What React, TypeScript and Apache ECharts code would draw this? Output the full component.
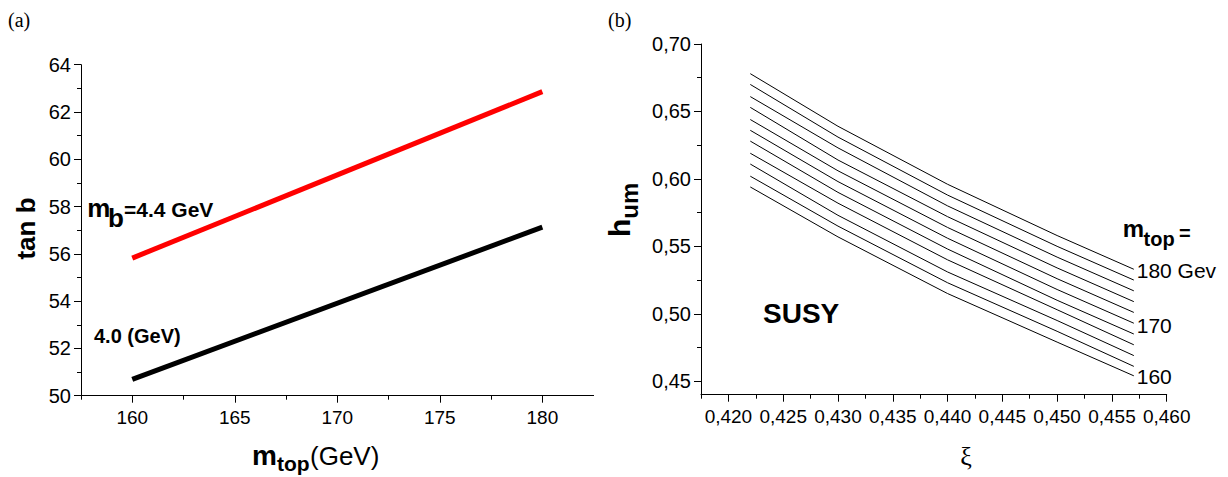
import { useEffect, useRef } from 'react';
import * as echarts from 'echarts';

// ---------- panel (a) ----------
const leftXMajor = [160, 165, 170, 175, 180];
const leftXMinor = [157.5, 162.5, 167.5, 172.5, 177.5];
const leftYMajor = [50, 52, 54, 56, 58, 60, 62, 64];
const leftYMinor = [51, 53, 55, 57, 59, 61, 63];
const mtopEnds = [160, 180];
const tanbMb44 = [55.82, 62.86];
const tanbMb40 = [50.69, 57.13];

// ---------- panel (b) ----------
const rightXMajor = [0.42, 0.425, 0.43, 0.435, 0.44, 0.445, 0.45, 0.455, 0.46];
const rightXMinor = [0.4175, 0.4225, 0.4275, 0.4325, 0.4375, 0.4425, 0.4475, 0.4525, 0.4575];
const rightYMajor = [0.45, 0.5, 0.55, 0.6, 0.65, 0.7];
const rightYMinor = [0.475, 0.525, 0.575, 0.625, 0.675];
const xiValues = [0.422, 0.43, 0.44, 0.45, 0.457];
const hum180 = [0.678, 0.639, 0.596, 0.558, 0.533];
const hum178 = [0.670, 0.631, 0.588, 0.550, 0.525];
const hum176 = [0.661, 0.623, 0.580, 0.542, 0.517];
const hum174 = [0.653, 0.614, 0.572, 0.534, 0.509];
const hum172 = [0.644, 0.606, 0.564, 0.526, 0.501];
const hum170 = [0.636, 0.598, 0.556, 0.518, 0.493];
const hum168 = [0.628, 0.590, 0.548, 0.510, 0.485];
const hum166 = [0.619, 0.582, 0.540, 0.503, 0.477];
const hum164 = [0.611, 0.573, 0.531, 0.495, 0.469];
const hum162 = [0.602, 0.565, 0.523, 0.487, 0.461];
const hum160 = [0.594, 0.557, 0.515, 0.479, 0.454];
const humCurves = [hum180, hum178, hum176, hum174, hum172, hum170, hum168, hum166, hum164, hum162, hum160];
const mtopCurveNames = ['180', '178', '176', '174', '172', '170', '168', '166', '164', '162', '160'];

const SANS = '"Liberation Sans", Arial, sans-serif';
const SERIF = '"Liberation Serif", "Times New Roman", serif';

const axisLine = { show: true, onZero: false, lineStyle: { color: '#000', width: 1 } };

function mainX(grid: number, min: number, max: number, ticks: number[], fmt: (v: number) => string) {
  return {
    type: 'value', gridIndex: grid, position: 'bottom', min, max,
    axisLine,
    splitLine: { show: false },
    axisTick: { show: true, length: 7, customValues: ticks, lineStyle: { color: '#000', width: 1 } },
    axisLabel: { show: true, customValues: ticks, formatter: fmt, fontSize: 19, fontFamily: SANS, color: '#000', margin: 12 },
  };
}
function minorX(grid: number, min: number, max: number, ticks: number[]) {
  return {
    type: 'value', gridIndex: grid, position: 'bottom', min, max,
    axisLine: { show: false, onZero: false },
    splitLine: { show: false },
    axisTick: { show: true, length: 4, customValues: ticks, lineStyle: { color: '#000', width: 1 } },
    axisLabel: { show: false },
  };
}
function mainY(grid: number, min: number, max: number, ticks: number[], fmt: (v: number) => string) {
  return {
    type: 'value', gridIndex: grid, position: 'left', min, max,
    axisLine,
    splitLine: { show: false },
    axisTick: { show: true, length: 7, customValues: ticks, lineStyle: { color: '#000', width: 1 } },
    axisLabel: { show: true, customValues: ticks, formatter: fmt, fontSize: 20, fontFamily: SANS, color: '#000', margin: 10 },
  };
}
function minorY(grid: number, min: number, max: number, ticks: number[]) {
  return {
    type: 'value', gridIndex: grid, position: 'left', min, max,
    axisLine: { show: false, onZero: false },
    splitLine: { show: false },
    axisTick: { show: true, length: 4, customValues: ticks, lineStyle: { color: '#000', width: 1 } },
    axisLabel: { show: false },
  };
}

function txt(text: string, x: number, y: number, font: string, align = 'left', rotation = 0) {
  return {
    type: 'text', x, y, rotation, silent: true,
    style: { text, font, fill: '#000', textAlign: align, textVerticalAlign: 'middle' },
  };
}

export default function App() {
  const ref = useRef<HTMLDivElement>(null);
  useEffect(() => {
    document.body.style.margin = '0';
    if (!ref.current) return;
    const chart = echarts.init(ref.current, undefined, { renderer: 'svg' });
    const comma2 = (v: number) => v.toFixed(2).replace('.', ',');
    const comma3 = (v: number) => v.toFixed(3).replace('.', ',');
    const int = (v: number) => String(Math.round(v));

    const series: any[] = [
      {
        type: 'line', name: 'mb=4.4', xAxisIndex: 0, yAxisIndex: 0, showSymbol: false, silent: true,
        data: mtopEnds.map((m, i) => [m, tanbMb44[i]]),
        lineStyle: { color: '#ff0000', width: 5 },
      },
      {
        type: 'line', name: 'mb=4.0', xAxisIndex: 0, yAxisIndex: 0, showSymbol: false, silent: true,
        data: mtopEnds.map((m, i) => [m, tanbMb40[i]]),
        lineStyle: { color: '#000000', width: 5 },
      },
    ];
    humCurves.forEach((curve, k) => {
      series.push({
        type: 'line', name: 'mtop=' + mtopCurveNames[k], xAxisIndex: 2, yAxisIndex: 2, showSymbol: false, silent: true,
        data: xiValues.map((x, i) => [x, curve[i]]),
        lineStyle: { color: '#000', width: 1 },
      });
    });

    chart.setOption({
      animation: false,
      backgroundColor: '#fff',
      grid: [
        { left: 81, top: 64.7, width: 512.6, height: 331, outerBoundsMode: 'none', containLabel: false },
        { left: 701, top: 44, width: 465.7, height: 350.7, outerBoundsMode: 'none', containLabel: false },
      ],
      xAxis: [
        mainX(0, 157.5, 182.5, leftXMajor, int),
        minorX(0, 157.5, 182.5, leftXMinor),
        mainX(1, 0.4175, 0.46, rightXMajor, comma3),
        minorX(1, 0.4175, 0.46, rightXMinor),
      ],
      yAxis: [
        mainY(0, 50, 64, leftYMajor, int),
        minorY(0, 50, 64, leftYMinor),
        mainY(1, 0.44, 0.7, rightYMajor, comma2),
        minorY(1, 0.44, 0.7, rightYMinor),
      ],
      series,
      graphic: [
        txt('(a)', 8, 20, `20px ${SERIF}`),
        txt('(b)', 608, 20, `20px ${SERIF}`),
        // panel (a) annotations
        txt('m', 87.3, 207.7, `bold 26px ${SANS}`),
        txt('b', 108, 218.3, `bold 26px ${SANS}`),
        txt('=4.4 GeV', 124, 209.4, `bold 21px ${SANS}`),
        txt('4.0 (GeV)', 94, 336.4, `bold 20px ${SANS}`),
        txt('tan b', 25.5, 228.5, `bold 26px ${SANS}`, 'center', Math.PI / 2),
        txt('m', 252, 455.3, `bold 28px ${SANS}`),
        txt('top', 277, 463.7, `bold 21px ${SANS}`),
        txt('(GeV)', 310, 456, `26px ${SANS}`),
        // panel (b) annotations
        txt('h', 619.6, 237, `bold 30px ${SANS}`, 'left', Math.PI / 2),
        txt('um', 629.7, 218.7, `bold 24px ${SANS}`, 'left', Math.PI / 2),
        txt('m', 1122.7, 228.4, `bold 24px ${SANS}`),
        txt('top', 1143.5, 238.9, `bold 20px ${SANS}`),
        txt('=', 1179, 232.9, `bold 20px ${SANS}`),
        txt('180 Gev', 1136.7, 270, `21px ${SANS}`),
        txt('170', 1136.7, 325.4, `21px ${SANS}`),
        txt('160', 1136.7, 376.7, `21px ${SANS}`),
        txt('SUSY', 763, 313.6, `bold 28px ${SANS}`),
        txt('ξ', 966, 456, `26px ${SERIF}`, 'center'),
      ],
    });
    return () => chart.dispose();
  }, []);
  return <div ref={ref} style={{ width: 1228, height: 477 }} />;
}
